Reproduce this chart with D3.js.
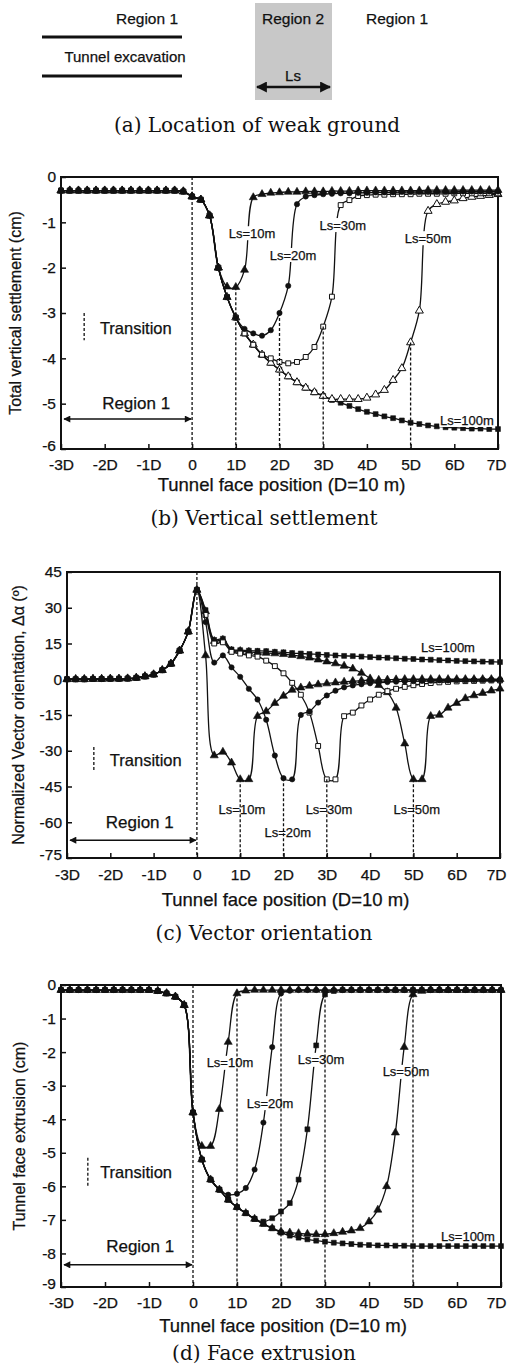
<!DOCTYPE html>
<html>
<head>
<meta charset="utf-8">
<script src="https://cdn.jsdelivr.net/npm/d3@7"></script>
<style>
  body { margin: 0; background: #fff; }
  svg { display: block; }
</style>
</head>
<body>
<svg id="chart" width="507" height="1368"></svg>
<script>
// tunnel face position, in D (D = 10 m)
const positions = [-3.0,-2.8,-2.6,-2.4,-2.2,-2.0,-1.8,-1.6,-1.4,-1.2,-1.0,-0.8,-0.6,-0.4,-0.2,
  0.0,0.2,0.4,0.6,0.8,1.0,1.2,1.4,1.6,1.8,2.0,2.2,2.4,2.6,2.8,3.0,3.2,3.4,3.6,3.8,
  4.0,4.2,4.4,4.6,4.8,5.0,5.2,5.4,5.6,5.8,6.0,6.2,6.4,6.6,6.8,7.0];
const seriesNames = ["Ls=10m", "Ls=20m", "Ls=30m", "Ls=50m", "Ls=100m"];
const weakStart = [1, 2, 3, 5];   // end of weak zone for Ls=10,20,30,50 (in D)
const xTicks = [-3,-2,-1,0,1,2,3,4,5,6,7];

// (b) total vertical settlement, cm
const settle10 = [-0.30,-0.30,-0.30,-0.30,-0.30,-0.30,-0.30,-0.30,-0.30,-0.30,-0.30,-0.30,-0.30,-0.30,-0.32,
  -0.43,-0.50,-0.85,-2.00,-2.42,-2.43,-2.05,-0.45,-0.38,-0.35,-0.34,-0.33,-0.33,-0.32,-0.32,-0.32,-0.31,-0.31,-0.31,-0.30,
  -0.30,-0.30,-0.30,-0.30,-0.30,-0.30,-0.30,-0.29,-0.29,-0.29,-0.29,-0.29,-0.29,-0.29,-0.29,-0.29];
const settle20 = [-0.30,-0.30,-0.30,-0.30,-0.30,-0.30,-0.30,-0.30,-0.30,-0.30,-0.30,-0.30,-0.30,-0.30,-0.32,
  -0.43,-0.50,-0.85,-2.00,-2.65,-3.10,-3.35,-3.45,-3.50,-3.38,-3.00,-2.40,-0.60,-0.43,-0.40,-0.38,-0.37,-0.36,-0.36,-0.35,
  -0.35,-0.34,-0.34,-0.34,-0.33,-0.33,-0.33,-0.33,-0.33,-0.33,-0.33,-0.32,-0.32,-0.32,-0.32,-0.32];
const settle30 = [-0.30,-0.30,-0.30,-0.30,-0.30,-0.30,-0.30,-0.30,-0.30,-0.30,-0.30,-0.30,-0.30,-0.30,-0.32,
  -0.43,-0.50,-0.85,-2.00,-2.65,-3.10,-3.45,-3.70,-3.92,-4.00,-4.08,-4.11,-4.08,-3.97,-3.75,-3.30,-2.64,-0.62,-0.51,-0.42,
  -0.40,-0.39,-0.39,-0.38,-0.38,-0.38,-0.37,-0.37,-0.37,-0.37,-0.36,-0.36,-0.36,-0.36,-0.36,-0.36];
const settle50 = [-0.30,-0.30,-0.30,-0.30,-0.30,-0.30,-0.30,-0.30,-0.30,-0.30,-0.30,-0.30,-0.30,-0.30,-0.32,
  -0.43,-0.50,-0.85,-2.00,-2.65,-3.10,-3.45,-3.70,-3.92,-4.10,-4.25,-4.40,-4.53,-4.65,-4.75,-4.83,-4.90,-4.90,-4.90,-4.90,
  -4.87,-4.80,-4.70,-4.48,-4.22,-3.65,-2.95,-0.75,-0.60,-0.55,-0.52,-0.47,-0.44,-0.42,-0.40,-0.38];
const settle100 = [-0.30,-0.30,-0.30,-0.30,-0.30,-0.30,-0.30,-0.30,-0.30,-0.30,-0.30,-0.30,-0.30,-0.30,-0.32,
  -0.43,-0.50,-0.85,-2.00,-2.65,-3.10,-3.45,-3.70,-3.92,-4.10,-4.25,-4.40,-4.53,-4.65,-4.75,-4.83,-4.92,-4.98,-5.05,-5.12,
  -5.18,-5.23,-5.28,-5.32,-5.37,-5.42,-5.45,-5.48,-5.50,-5.52,-5.53,-5.54,-5.55,-5.55,-5.56,-5.56];

// (c) normalized vector orientation, degrees
const orient10 = [0.0,0.0,0.0,0.1,0.1,0.2,0.2,0.3,0.6,1.2,2.0,3.8,6.5,12.0,20.0,
  37.5,10.0,-32.0,-30.5,-35.0,-42.0,-42.0,-15.5,-13.5,-10.0,-7.0,-4.5,-3.5,-2.8,-2.2,-1.8,-1.4,-1.1,-0.8,-0.6,
  -0.4,-0.3,-0.2,-0.1,0.0,0.0,0.0,0.0,0.0,0.0,0.0,0.0,0.0,0.0,0.0,0.0];
const orient20 = [0.0,0.0,0.0,0.1,0.1,0.2,0.2,0.3,0.6,1.2,2.0,3.8,6.5,12.0,20.0,
  37.5,24.0,7.0,10.0,5.0,1.0,-4.0,-8.5,-17.0,-32.0,-41.5,-42.0,-15.0,-13.5,-9.8,-6.8,-4.8,-3.4,-2.6,-2.1,
  -1.7,-1.4,-1.2,-1.0,-0.9,-0.8,-0.7,-0.6,-0.5,-0.5,-0.4,-0.4,-0.3,-0.3,-0.3,-0.3];
const orient30 = [0.0,0.0,0.0,0.1,0.1,0.2,0.2,0.3,0.6,1.2,2.0,3.8,6.5,12.0,20.0,
  37.5,27.0,15.0,15.5,11.5,10.8,10.0,9.5,7.8,5.5,2.5,-1.5,-6.5,-14.0,-28.0,-42.0,-42.0,-15.5,-14.0,-11.0,
  -8.5,-6.5,-5.0,-4.0,-3.2,-2.5,-2.0,-1.6,-1.3,-1.1,-0.9,-0.8,-0.7,-0.6,-0.5,-0.5];
const orient50 = [0.0,0.0,0.0,0.1,0.1,0.2,0.2,0.3,0.6,1.2,2.0,3.8,6.5,12.0,20.0,
  37.5,28.5,16.0,16.5,12.0,11.8,11.5,11.2,11.0,10.8,10.5,10.1,9.6,9.0,8.2,7.4,6.6,5.6,4.4,2.6,
  0.3,-2.5,-5.5,-12.0,-27.0,-42.0,-42.0,-15.5,-15.0,-12.0,-10.0,-8.0,-6.8,-5.8,-4.8,-4.0];
const orient100 = [0.0,0.0,0.0,0.1,0.1,0.2,0.2,0.3,0.6,1.2,2.0,3.8,6.5,12.0,20.0,
  37.5,29.0,16.5,17.0,12.5,12.2,12.0,11.9,11.8,11.5,11.3,11.0,10.8,10.6,10.4,10.2,10.0,9.8,9.7,9.5,
  9.3,9.1,9.0,8.8,8.6,8.5,8.3,8.2,8.0,7.9,7.7,7.6,7.5,7.4,7.3,7.2];

// (d) tunnel face extrusion, cm
const extr10 = [-0.15,-0.15,-0.15,-0.15,-0.15,-0.15,-0.15,-0.15,-0.15,-0.15,-0.15,-0.18,-0.25,-0.35,-0.60,
  -3.80,-4.80,-4.80,-3.70,-1.70,-0.25,-0.17,-0.15,-0.15,-0.15,-0.15,-0.15,-0.15,-0.15,-0.15,-0.15,-0.15,-0.15,-0.15,-0.15,
  -0.15,-0.15,-0.15,-0.15,-0.15,-0.15,-0.15,-0.15,-0.15,-0.15,-0.15,-0.15,-0.15,-0.15,-0.15,-0.15];
const extr20 = [-0.15,-0.15,-0.15,-0.15,-0.15,-0.15,-0.15,-0.15,-0.15,-0.15,-0.15,-0.18,-0.25,-0.35,-0.60,
  -3.80,-5.20,-5.80,-6.10,-6.25,-6.22,-6.05,-5.50,-4.10,-1.85,-0.25,-0.17,-0.15,-0.15,-0.15,-0.15,-0.15,-0.15,-0.15,-0.15,
  -0.15,-0.15,-0.15,-0.15,-0.15,-0.15,-0.15,-0.15,-0.15,-0.15,-0.15,-0.15,-0.15,-0.15,-0.15,-0.15];
const extr30 = [-0.15,-0.15,-0.15,-0.15,-0.15,-0.15,-0.15,-0.15,-0.15,-0.15,-0.15,-0.18,-0.25,-0.35,-0.60,
  -3.80,-5.20,-5.80,-6.10,-6.40,-6.62,-6.80,-6.97,-7.05,-6.95,-6.75,-6.50,-5.80,-4.30,-1.80,-0.28,-0.18,-0.15,-0.15,-0.15,
  -0.15,-0.15,-0.15,-0.15,-0.15,-0.15,-0.15,-0.15,-0.15,-0.15,-0.15,-0.15,-0.15,-0.15,-0.15,-0.15];
const extr50 = [-0.15,-0.15,-0.15,-0.15,-0.15,-0.15,-0.15,-0.15,-0.15,-0.15,-0.15,-0.18,-0.25,-0.35,-0.60,
  -3.80,-5.20,-5.80,-6.10,-6.40,-6.62,-6.80,-6.97,-7.12,-7.25,-7.35,-7.38,-7.40,-7.42,-7.43,-7.43,-7.40,-7.36,-7.32,-7.25,
  -7.05,-6.70,-6.00,-4.40,-1.85,-0.28,-0.18,-0.15,-0.15,-0.15,-0.15,-0.15,-0.15,-0.15,-0.15,-0.15];
const extr100 = [-0.15,-0.15,-0.15,-0.15,-0.15,-0.15,-0.15,-0.15,-0.15,-0.15,-0.15,-0.18,-0.25,-0.35,-0.60,
  -3.80,-5.20,-5.80,-6.10,-6.40,-6.62,-6.80,-6.97,-7.12,-7.25,-7.38,-7.47,-7.53,-7.58,-7.62,-7.65,-7.68,-7.70,-7.72,-7.74,
  -7.75,-7.76,-7.76,-7.77,-7.77,-7.78,-7.78,-7.78,-7.78,-7.78,-7.78,-7.78,-7.78,-7.78,-7.78,-7.78];

const SANS = '"Liberation Sans", Arial, Helvetica, sans-serif';
const SERIF = '"DejaVu Serif", "Liberation Serif", serif';
const W = 507;

const svg = d3.select("#chart");

// arrow heads
const defs = svg.append("defs");
function addArrow(id, w, h) {
  defs.append("marker")
    .attr("id", id)
    .attr("viewBox", "0 0 10 10")
    .attr("refX", 9).attr("refY", 5)
    .attr("markerUnits", "userSpaceOnUse")
    .attr("markerWidth", w).attr("markerHeight", h)
    .attr("orient", "auto-start-reverse")
    .append("path")
    .attr("d", "M0,0 L10,5 L0,10 z")
    .attr("fill", "#111");
}
addArrow("arrSmall", 8, 7);
addArrow("arrBig", 11, 11);

function txt(g, x, y, s, opts = {}) {
  const t = g.append("text")
    .attr("x", x).attr("y", y)
    .attr("dy", "0.35em")
    .attr("text-anchor", opts.anchor || "middle")
    .attr("font-family", opts.family || SANS)
    .attr("font-size", opts.size || 15)
    .attr("fill", "#111")
    .text(s);
  if (!opts.family) t.attr("stroke", "#111").attr("stroke-width", 0.25);
  return t;
}

// ---- (a) location of weak ground ----
const ga = svg.append("g");
ga.append("rect").attr("x", 255).attr("y", 3).attr("width", 77).attr("height", 97).attr("fill", "#c8c8c8");
ga.append("line").attr("x1", 42).attr("x2", 182).attr("y1", 37).attr("y2", 37).attr("stroke", "#111").attr("stroke-width", 3);
ga.append("line").attr("x1", 42).attr("x2", 182).attr("y1", 76).attr("y2", 76).attr("stroke", "#111").attr("stroke-width", 3);
txt(ga, 147, 19, "Region 1", {size: 15.5});
txt(ga, 293, 19, "Region 2", {size: 15.5});
txt(ga, 397, 19, "Region 1", {size: 15.5});
txt(ga, 125, 57, "Tunnel excavation", {size: 15});
txt(ga, 293, 76, "Ls", {size: 15});
ga.append("line").attr("x1", 257).attr("x2", 330).attr("y1", 87).attr("y2", 87)
  .attr("stroke", "#111").attr("stroke-width", 2.5)
  .attr("marker-start", "url(#arrBig)").attr("marker-end", "url(#arrBig)");
txt(ga, 257, 125, "(a) Location of weak ground", {family: SERIF, size: 20});

// ---- panels (b), (c), (d) ----
const symbolOf = {
  tri: d3.symbolTriangle, circle: d3.symbolCircle, square: d3.symbolSquare
};

const panels = [
  {
    series: [settle10, settle20, settle30, settle50, settle100],
    marks: [["tri", true], ["circle", true], ["square", false], ["tri", false], ["square", true]],
    yDomain: [-6, 0], yTicks: [0,-1,-2,-3,-4,-5,-6],
    xRange: [61, 498], yRange: [449, 177],
    xPad: 10, yPad: 5,
    ylabel: "Total vertical settlement (cm)", ylabelX: 15,
    xlabelY: 485, caption: "(b) Vertical settlement", captionY: 518,
    labels: [[1.37,-1.24],[2.31,-1.72],[3.45,-1.06],[5.40,-1.35],[6.29,-5.36]],
    labelBg: true,
    transition: {x: -2.47, y1: -3.0, y2: -3.6, tx: -2.11, ty: -3.33},
    region: {tx: -1.28, ty: -4.99, ay: -5.34}
  },
  {
    series: [orient10, orient20, orient30, orient50, orient100],
    marks: [["tri", true], ["circle", true], ["square", false], ["tri", true], ["square", true]],
    yDomain: [-75, 45], yTicks: [45,30,15,0,-15,-30,-45,-60,-75],
    xRange: [67, 500], yRange: [858, 572],
    xPad: 11, yPad: 5,
    ylabel: "Normalized Vector orientation, \u0394\u03b1 (\u00ba)", ylabelX: 18,
    xlabelY: 900, caption: "(c) Vector orientation", captionY: 933,
    labels: [[1.04,-54.5],[2.10,-64.1],[3.05,-54.5],[5.08,-54.5],[5.80,13.5]],
    labelBg: false,
    transition: {x: -2.38, y1: -28.4, y2: -38.9, tx: -2.01, ty: -33.9},
    region: {tx: -1.32, ty: -59.9, ay: -67.5}
  },
  {
    series: [extr10, extr20, extr30, extr50, extr100],
    marks: [["tri", true], ["circle", true], ["square", true], ["tri", true], ["square", true]],
    yDomain: [-9, 0], yTicks: [0,-1,-2,-3,-4,-5,-6,-7,-8,-9],
    xRange: [61, 501], yRange: [1287, 985],
    xPad: 10, yPad: 5,
    ylabel: "Tunnel face extrusion (cm)", ylabelX: 19,
    xlabelY: 1326, caption: "(d) Face extrusion", captionY: 1353,
    labels: [[0.84,-2.32],[1.75,-3.52],[2.91,-2.23],[4.84,-2.59],[6.25,-7.48]],
    labelBg: true,
    transition: {x: -2.39, y1: -5.15, y2: -6.02, tx: -2.11, ty: -5.57},
    region: {tx: -1.20, ty: -7.78, ay: -8.34}
  }
];

function drawPanel(p) {
  const x = d3.scaleLinear().domain([-3, 7]).range(p.xRange);
  const y = d3.scaleLinear().domain(p.yDomain).range(p.yRange);
  const g = svg.append("g");
  const [bottom, top] = p.yRange;
  const [left, right] = p.xRange;

  const xAxis = g.append("g")
    .attr("transform", `translate(0,${bottom})`)
    .call(d3.axisBottom(x).tickValues(xTicks)
      .tickFormat(d => d === 0 ? "0" : d + "D")
      .tickSizeInner(-5).tickSizeOuter(0).tickPadding(p.xPad));
  const yAxis = g.append("g")
    .attr("transform", `translate(${left},0)`)
    .call(d3.axisLeft(y).tickValues(p.yTicks)
      .tickFormat(d => String(d))
      .tickSizeInner(-5).tickSizeOuter(0).tickPadding(p.yPad));
  [xAxis, yAxis].forEach(a => {
    a.select(".domain").remove();
    a.selectAll("line").attr("stroke", "#111").attr("stroke-width", 1.5);
    a.selectAll("text").attr("font-family", SANS).attr("font-size", 15.5)
      .attr("fill", "#111").attr("stroke", "#111").attr("stroke-width", 0.25);
  });
  // lowest y label sits just above the x labels, as in the original
  yAxis.selectAll(".tick text").filter(d => d === p.yDomain[0]).attr("dy", "0.1em");
  // keep the last x label inside the page
  xAxis.selectAll(".tick text").filter(d => d === 7)
    .attr("text-anchor", "end").attr("x", Math.min(11, W - 1 - right));

  g.append("rect")
    .attr("x", left).attr("y", top)
    .attr("width", right - left).attr("height", bottom - top)
    .attr("fill", "none").attr("stroke", "#111").attr("stroke-width", 2);

  const line = d3.line()
    .x((d, i) => x(positions[i]))
    .y(d => y(d))
    .curve(d3.curveCatmullRom.alpha(0.5));

  // draw Ls=100 first so the shorter zones sit on top
  d3.range(p.series.length - 1, -1, -1).forEach(k => {
    const values = p.series[k];
    const [shape, filled] = p.marks[k];
    g.append("path")
      .attr("d", line(values))
      .attr("fill", "none").attr("stroke", "#111").attr("stroke-width", 1.3);
    const sym = d3.symbol().type(symbolOf[shape]).size(shape === "circle" ? 22 : shape === "tri" ? 28 : 24);
    g.append("g").selectAll("path")
      .data(values)
      .join("path")
      .attr("transform", (d, i) => `translate(${x(positions[i])},${y(d)})`)
      .attr("d", sym)
      .attr("fill", filled ? "#111" : "#fff")
      .attr("stroke", "#111").attr("stroke-width", filled ? 0.6 : 1);
  });

  // label backgrounds (break the curves like the original)
  const labelG = g.append("g");
  if (p.labelBg) {
    p.labels.forEach(([lx, ly], k) => {
      const w = seriesNames[k].length * 7.6;
      labelG.append("rect")
        .attr("x", x(lx) - w / 2 - 1).attr("y", y(ly) - 7)
        .attr("width", w + 2).attr("height", 14)
        .attr("fill", "#fff");
    });
  }

  // transition lines
  const dash = (x1, y1, y2) => g.append("line")
    .attr("x1", x1).attr("x2", x1).attr("y1", y1).attr("y2", y2)
    .attr("stroke", "#111").attr("stroke-width", 1.3).attr("stroke-dasharray", "3,2");
  dash(x(0), top, bottom);
  weakStart.forEach((xs, k) => {
    const i = positions.findIndex(v => Math.abs(v - xs) < 1e-6);
    dash(x(xs), y(p.series[k][i]), bottom);
  });

  p.labels.forEach(([lx, ly], k) => {
    txt(g, x(lx), y(ly), seriesNames[k], {size: 13});
  });

  // legend "Transition"
  const t = p.transition;
  dash(x(t.x), y(t.y1), y(t.y2));
  txt(g, x(t.tx), y(t.ty), "Transition", {anchor: "start", size: 16.5});

  // Region 1 arrow
  txt(g, x(p.region.tx), y(p.region.ty), "Region 1", {size: 17});
  g.append("line")
    .attr("x1", x(-3) + 3).attr("x2", x(0) - 1)
    .attr("y1", y(p.region.ay)).attr("y2", y(p.region.ay))
    .attr("stroke", "#111").attr("stroke-width", 1.5)
    .attr("marker-start", "url(#arrSmall)").attr("marker-end", "url(#arrSmall)");

  // axis titles and caption
  txt(g, (left + right) / 2 + 2, p.xlabelY, "Tunnel face position (D=10 m)", {size: 18.5});
  g.append("text")
    .attr("transform", `translate(${p.ylabelX},${(top + bottom) / 2}) rotate(-90)`)
    .attr("dy", "0.35em")
    .attr("text-anchor", "middle")
    .attr("font-family", SANS).attr("font-size", 16).attr("fill", "#111")
    .attr("stroke", "#111").attr("stroke-width", 0.25)
    .text(p.ylabel);
  txt(g, 264, p.captionY, p.caption, {family: SERIF, size: 20});
}

panels.forEach(drawPanel);
</script>
</body>
</html>
